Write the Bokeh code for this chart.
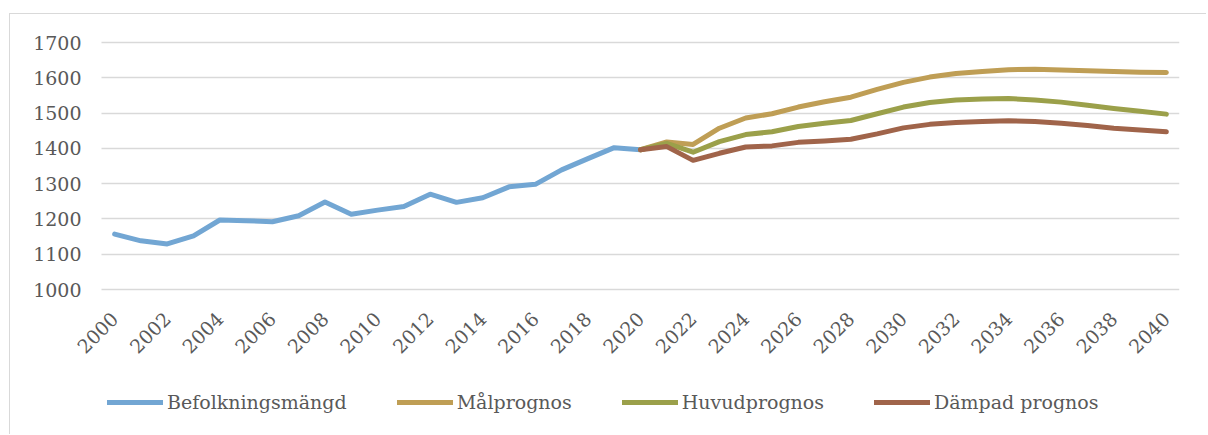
import math
from bokeh.plotting import figure
from bokeh.models import Legend, LegendItem, FixedTicker, Range1d
from bokeh.embed import file_html
from bokeh.resources import INLINE

# ---- data ----
years_hist = [2000, 2001, 2002, 2003, 2004, 2005, 2006, 2007, 2008, 2009, 2010,
              2011, 2012, 2013, 2014, 2015, 2016, 2017, 2018, 2019, 2020]
befolkningsmangd = [1157, 1138, 1129, 1152, 1197, 1195, 1192, 1209, 1248, 1213, 1225,
                    1235, 1270, 1247, 1260, 1291, 1298, 1339, 1371, 1402, 1396]

years_prog = [2020, 2021, 2022, 2023, 2024, 2025, 2026, 2027, 2028, 2029, 2030,
              2031, 2032, 2033, 2034, 2035, 2036, 2037, 2038, 2039, 2040]
malprognos = [1396, 1418, 1411, 1457, 1486, 1498, 1517, 1532, 1545, 1567, 1587,
              1602, 1612, 1618, 1623, 1624, 1622, 1620, 1618, 1616, 1615]
huvudprognos = [1396, 1414, 1389, 1419, 1439, 1447, 1462, 1471, 1479, 1498, 1517,
                1530, 1537, 1540, 1541, 1537, 1531, 1522, 1513, 1505, 1497]
dampad_prognos = [1396, 1405, 1366, 1386, 1404, 1407, 1417, 1421, 1426, 1441, 1458,
                  1468, 1473, 1476, 1478, 1476, 1471, 1465, 1457, 1452, 1447]

x_ticks = [2000, 2002, 2004, 2006, 2008, 2010, 2012, 2014, 2016, 2018, 2020,
           2022, 2024, 2026, 2028, 2030, 2032, 2034, 2036, 2038, 2040]
x_tick_labels = [str(y) for y in x_ticks]
y_ticks = [1000, 1100, 1200, 1300, 1400, 1500, 1600, 1700]
y_tick_labels = ["1000", "1100", "1200", "1300", "1400", "1500", "1600", "1700"]

series_names = ["Befolkningsmängd", "Målprognos", "Huvudprognos", "Dämpad prognos"]
colors = ["#72A6D3", "#BF9E55", "#9BA04A", "#A0644A"]

FONT = "DejaVu Serif"
TEXT = "#595959"
FS = "19px"

# ---- layout ----
# The value area (1999.5..2040.5 x 1000..1700) is 1078 x 247 px.  The frame is
# extended left, up and down so the axis labels and legend lie inside it.
X_LO, X_HI = 1999.5, 2040.5
Y_MIN, Y_MAX = 1000, 1700
AREA_W, AREA_H = 1078, 247
EXT_L = 81          # px of frame left of the value area
EXT_T = 20          # px of frame above the value area
EXT_B = 145         # px of frame below the value area
FRAME_H = AREA_H + EXT_T + EXT_B
x_start = X_LO - EXT_L * (X_HI - X_LO) / AREA_W
y_start = Y_MIN - EXT_B * (Y_MAX - Y_MIN) / AREA_H
y_end = Y_MAX + EXT_T * (Y_MAX - Y_MIN) / AREA_H

p = figure(frame_width=AREA_W + EXT_L, frame_height=FRAME_H,
           x_range=Range1d(x_start, X_HI), y_range=Range1d(y_start, y_end),
           output_backend="svg", toolbar_location=None,
           min_border_left=10, min_border_right=27,
           min_border_top=28 - EXT_T, min_border_bottom=0)
p.outline_line_color = None
p.styles = {"border-left": "1px solid #d9d9d9", "border-top": "1px solid #d9d9d9",
            "margin-top": "13px", "margin-left": "9px"}

p.xgrid.visible = False
p.ygrid.grid_line_color = "#d9d9d9"
p.ygrid.grid_line_width = 1.5
p.ygrid.cross_bounds = (X_LO, X_HI)

p.yaxis.ticker = FixedTicker(ticks=y_ticks)
p.yaxis.major_label_overrides = dict(zip(y_ticks, y_tick_labels))
p.yaxis.fixed_location = X_LO
p.xaxis.ticker = FixedTicker(ticks=x_ticks)
p.xaxis.major_label_overrides = dict(zip(x_ticks, x_tick_labels))
p.xaxis.major_label_orientation = math.pi / 4
p.xaxis.fixed_location = Y_MIN
for ax in (p.xaxis[0], p.yaxis[0]):
    ax.axis_line_color = None
    ax.major_tick_line_color = None
    ax.minor_tick_line_color = None
    ax.major_tick_out = 0
    ax.major_tick_in = 0
    ax.major_label_text_font = FONT
    ax.major_label_text_font_size = FS
    ax.major_label_text_color = TEXT
p.yaxis.major_label_standoff = 20
p.xaxis.major_label_standoff = 26

kw = dict(line_width=5, line_cap="round", line_join="round")
r1 = p.line(years_hist, befolkningsmangd, line_color=colors[0], **kw)
r2 = p.line(years_prog, malprognos, line_color=colors[1], **kw)
r3 = p.line(years_prog, huvudprognos, line_color=colors[2], **kw)
r4 = p.line(years_prog, dampad_prognos, line_color=colors[3], **kw)

legend = Legend(items=[LegendItem(label=n, renderers=[r])
                       for n, r in zip(series_names, [r1, r2, r3, r4])],
                location=(EXT_L + 6, 21), orientation="horizontal",
                border_line_color=None, background_fill_alpha=0,
                padding=0, margin=0, spacing=50, glyph_width=56, glyph_height=20,
                label_standoff=4, label_text_font=FONT,
                label_text_font_size=FS, label_text_color=TEXT)
p.add_layout(legend)

open("out.html", "w").write(file_html(p, INLINE))
